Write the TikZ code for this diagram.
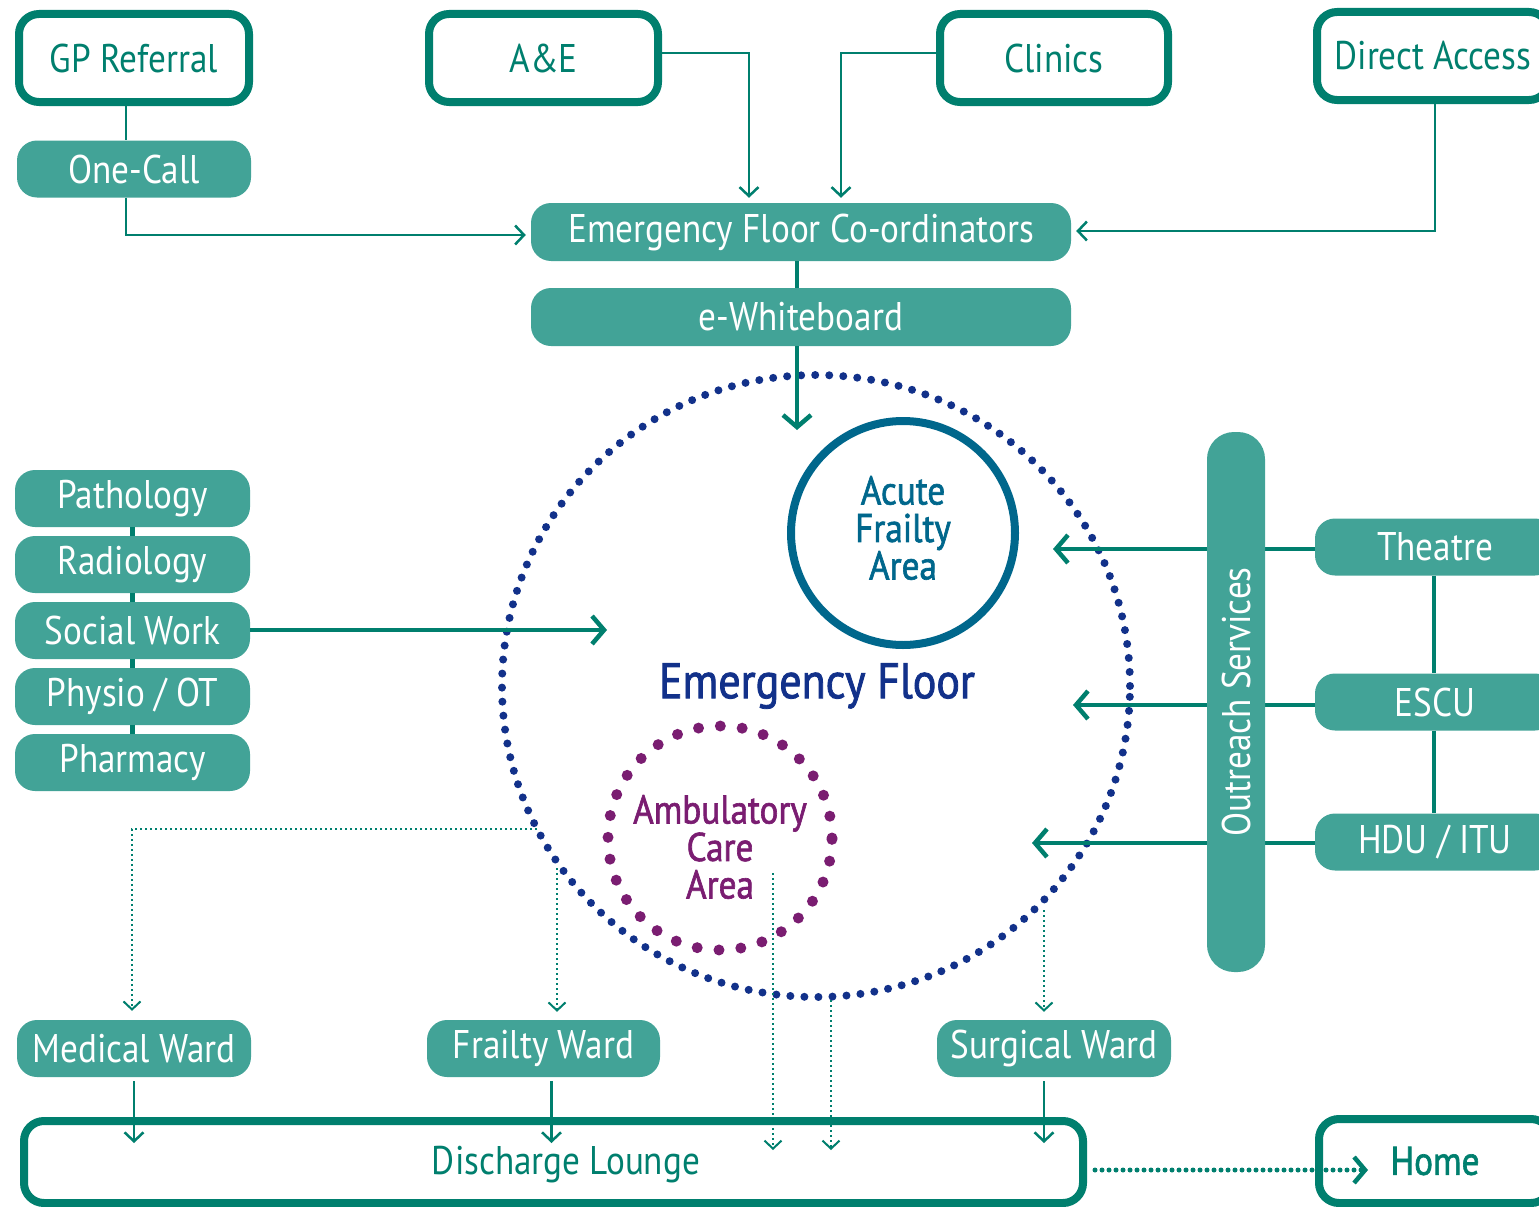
\documentclass[tikz,border=0pt]{standalone}
\usepackage{fontspec}
\setmainfont{PT Sans}[FakeStretch=0.88]
\newfontfamily\medfont{PT Sans}[FakeStretch=0.88, FakeBold=1.6]
\usetikzlibrary{arrows.meta,calc}

\definecolor{efteal}{HTML}{007F6E}
\definecolor{effill}{HTML}{42A397}
\definecolor{efnavy}{HTML}{12318A}
\definecolor{efblue}{HTML}{00678C}
\definecolor{efpurple}{HTML}{7A1D71}

\tikzset{
  srcbox/.style={draw=efteal, line width=8pt, fill=white, rounded corners=20pt,
    minimum width=230pt, minimum height=88pt, inner sep=0pt, text=efteal,
    font=\fontsize{40}{44}\selectfont},
  unitbox/.style={fill=effill, rounded corners=20pt, minimum width=234pt,
    minimum height=57pt, inner sep=0pt, text=white,
    font=\fontsize{40}{44}\selectfont},
  flow/.style={draw=efteal, line width=2.5pt,
    -{Straight Barb[length=9pt,width=19pt,line width=2.5pt]}},
  bigflow/.style={draw=efteal, line width=4.5pt,
    -{Straight Barb[length=12pt,width=28pt,line width=4.5pt]}},
  link/.style={draw=efteal, line width=4.5pt},
  dotflow/.style={draw=efteal, line width=2pt, dash pattern=on 2pt off 3pt,
    -{Straight Barb[length=8pt,width=17pt,line width=2pt]}},
  areatext/.style={align=center, font=\fontsize{40}{37.5}\medfont}
}

\begin{document}
\begin{tikzpicture}[x=1pt,y=-1pt]
\useasboundingbox (0,0) rectangle (1539,1207);

% referral sources
\node[srcbox] (gp) at (134,58) {GP Referral};
\node[srcbox, minimum width=229pt] (ae) at (543.5,58) {A\&E};
\node[srcbox, minimum width=228pt] (clinics) at (1054,58) {Clinics};
\node[srcbox, minimum width=232pt] (direct) at (1433,56) {Direct Access};

\node[unitbox] (onecall) at (134,169) {One-Call};
\node[unitbox, minimum width=540pt, minimum height=58pt] (efc) at (801,232) {Emergency Floor Co-ordinators};
\node[unitbox, minimum width=540pt, minimum height=58pt] (ewb) at (801,317) {e-Whiteboard};

\draw[efteal, line width=2.5pt] ([xshift=-8pt]gp.south) -- ([xshift=-8pt]onecall.north);
\draw[flow, shorten >=5pt] ([xshift=-8pt]onecall.south) |- ([yshift=-3pt]efc.west);
\draw[flow, shorten >=5pt] ([yshift=5pt]ae.east) -| ([xshift=-52pt]efc.north);
\draw[flow, shorten >=5pt] ([yshift=5pt]clinics.west) -| ([xshift=40pt]efc.north);
\draw[flow, shorten >=5pt] ([xshift=2pt]direct.south) |- ([yshift=1pt]efc.east);
\draw[link] ([xshift=-4pt]efc.south) -- ([xshift=-4pt]ewb.north);

% emergency floor
\draw[efnavy, line width=8pt, line cap=round, dash pattern=on 0pt off 14.05pt] (816,686) ellipse (314pt and 311pt);
\draw[efblue, line width=8pt] (903,533) circle (112pt);
\node[areatext, text=efblue] (afa) at (903,528) {Acute\\Frailty\\Area};
\draw[efpurple, line width=11pt, line cap=round, dash pattern=on 0pt off 21.95pt] (720,838) circle (112pt);
\node[areatext, text=efpurple] (aca) at (720,847) {Ambulatory\\Care\\Area};
\node[text=efnavy, font=\fontsize{50}{50}\medfont] (ef) at (817,686) {Emergency Floor};

\coordinate (efin) at (797,430);
\draw[bigflow] ([xshift=-4pt]ewb.south) -- (efin);

% support services
\node[unitbox, minimum width=235pt] (path) at (132.5,498.5) {Pathology};
\node[unitbox, minimum width=235pt] (radio) at (132.5,564.5) {Radiology};
\node[unitbox, minimum width=235pt] (social) at (132.5,630.5) {Social Work};
\node[unitbox, minimum width=235pt] (physio) at (132.5,696.5) {Physio / OT};
\node[unitbox, minimum width=235pt] (pharm) at (132.5,762.5) {Pharmacy};
\draw[link] (path) -- (radio) (radio) -- (social) (social) -- (physio) (physio) -- (pharm);
\coordinate (swin) at (607,630);
\draw[bigflow] (social.east |- swin) -- (swin);

% outreach
\node[unitbox, minimum width=240pt] (theatre) at (1435,547) {Theatre};
\node[unitbox, minimum width=240pt] (escu) at (1435,702) {ESCU};
\node[unitbox, minimum width=240pt] (hdu) at (1435,842) {HDU / ITU};
\draw[link] ([xshift=-1pt]theatre.south) -- ([xshift=-1pt]escu.north);
\draw[link] ([xshift=-1pt]escu.south) -- ([xshift=-1pt]hdu.north);
\coordinate (thin) at (1053,549);
\coordinate (esin) at (1073,705);
\coordinate (hdin) at (1032,843);
\draw[bigflow] (theatre.west |- thin) -- (thin);
\draw[bigflow] (escu.west |- esin) -- (esin);
\draw[bigflow] (hdu.west |- hdin) -- (hdin);
\node[unitbox, minimum width=540pt, minimum height=58pt, rounded corners=27pt, rotate=90] (outreach) at (1236,702) {Outreach Services};

% wards
\node[unitbox] (medical) at (134,1048.5) {Medical Ward};
\node[unitbox, minimum width=233pt] (frailty) at (543.5,1048.5) {Frailty Ward};
\node[unitbox] (surgical) at (1054,1048.5) {Surgical Ward};

\node[srcbox, minimum width=1059pt, minimum height=82pt] (lounge) at (553.5,1162) {};
\node[text=efteal, font=\fontsize{40}{44}\selectfont] (loungetext) at (566,1165) {Discharge Lounge};
\node[srcbox, minimum width=232pt, minimum height=84pt, font=\fontsize{40}{44}\medfont] (home) at (1435,1161) {Home};

\coordinate (mw) at (537,829);
\coordinate (fw) at (557,868);
\coordinate (ac1) at (773,873);
\coordinate (ac2) at (831,1000);
\coordinate (sw) at (1044,910);
\coordinate (dl1) at (773,1150);
\coordinate (dl2) at (831,1150);
\coordinate (hm) at (1368,1170);
\draw[dotflow, shorten >=9pt] (mw) -| ([xshift=-2pt]medical.north);
\draw[dotflow, shorten >=8pt] (fw) -- (fw |- frailty.north);
\draw[dotflow, shorten >=8pt] (sw) -- (sw |- surgical.north);
\draw[dotflow] (ac1) -- (dl1);
\draw[dotflow] (ac2) -- (dl2);

\draw[flow, shorten <=4pt] (medical.south) -- (medical.south |- 0,1143);
\draw[flow, shorten <=4pt] ([xshift=8pt]frailty.south) -- ([xshift=8pt]frailty.south |- 0,1143);
\draw[flow, shorten <=4pt] ([xshift=-10pt]surgical.south) -- ([xshift=-10pt]surgical.south |- 0,1143);

\draw[draw=efteal, line width=5pt, line cap=round, dash pattern=on 0pt off 7pt,
  -{Straight Barb[length=11pt,width=26pt,line width=4.5pt]}]
  ([xshift=8pt]lounge.east |- hm) -- (hm);
\end{tikzpicture}
\end{document}
